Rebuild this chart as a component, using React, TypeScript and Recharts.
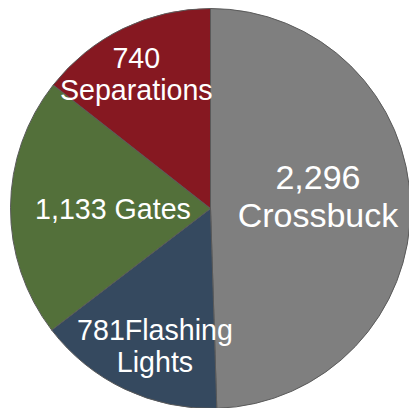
import { PieChart, Pie, Cell } from 'recharts';

// categories, clockwise from 12 o'clock
const categories = ['Crossbuck', 'Flashing Lights', 'Gates', 'Separations'];
// counts printed on the slices
const counts = [2296, 781, 1133, 740];
// slice sizes as drawn (percent of the circle --
// the picture does not draw them in proportion to the printed counts)
const shares = [49.5, 15.1, 21.0, 14.4];
// label text exactly as it is wrapped in the picture
const labelLines = [
  ['2,296', 'Crossbuck'],
  ['781Flashing', 'Lights'],
  ['1,133 Gates'],
  ['740', 'Separations'],
];

const COLORS = ['#7f7f7f', '#35495f', '#53703a', '#861821'];
// label placement: fraction of radius along the slice middle, plus a nudge
const LABEL_POS = [
  { r: 0.5375, dx: 0, dy: -10.6, size: 34, lh: 38 },
  { r: 0.7395, dx: 7.9, dy: 3.8, size: 28.6, lh: 32 },
  { r: 0.4875, dx: 0, dy: 0.4, size: 28.6, lh: 32 },
  { r: 0.7675, dx: -7.1, dy: 3.5, size: 28.6, lh: 32 },
];

const data = categories.map((name, i) => ({ name, count: counts[i], share: shares[i] }));

const RAD = Math.PI / 180;

const renderLabel = (props: any) => {
  const { cx, cy, midAngle, outerRadius, index } = props;
  const pos = LABEL_POS[index];
  const x = cx + outerRadius * pos.r * Math.cos(-midAngle * RAD) + pos.dx;
  const y = cy + outerRadius * pos.r * Math.sin(-midAngle * RAD) + pos.dy;
  const lines = labelLines[index];
  const first = y - ((lines.length - 1) * pos.lh) / 2 + pos.size * 0.358;
  return (
    <text
      key={`lbl-${index}`}
      x={x}
      y={first}
      fill="#ffffff"
      textAnchor="middle"
      fontSize={pos.size}
      fontFamily="'Liberation Sans', Arial, sans-serif"
    >
      {lines.map((ln, j) => (
        <tspan key={j} x={x} y={first + j * pos.lh}>
          {ln}
        </tspan>
      ))}
    </text>
  );
};

export default function App() {
  return (
    <div style={{ position: 'fixed', left: 0, top: 0, width: 409, height: 408, background: '#fff' }}>
      <PieChart width={409} height={408} margin={{ top: 0, right: 0, bottom: 0, left: 0 }}>
        <Pie
          data={data}
          dataKey="share"
          nameKey="name"
          cx={210.5}
          cy={208.5}
          outerRadius={200}
          startAngle={90}
          endAngle={-270}
          stroke="#5a5a5a"
          strokeWidth={1}
          label={renderLabel}
          labelLine={false}
          isAnimationActive={false}
        >
          {data.map((d, i) => (
            <Cell key={d.name} fill={COLORS[i]} />
          ))}
        </Pie>
      </PieChart>
    </div>
  );
}
